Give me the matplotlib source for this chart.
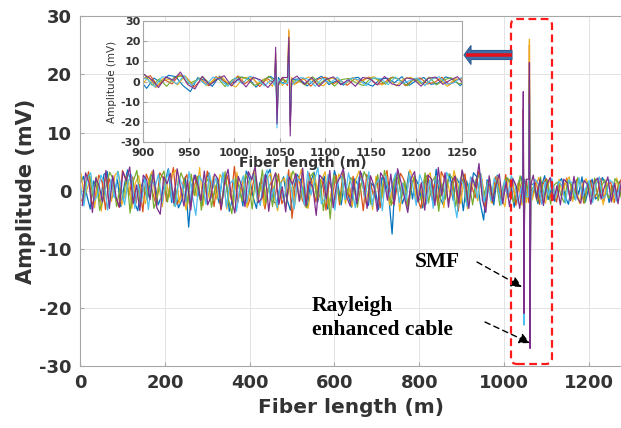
import numpy as np
import matplotlib.pyplot as plt
from matplotlib.patches import FancyBboxPatch, FancyArrow
from matplotlib.transforms import IdentityTransform

plt.rcParams['axes.unicode_minus'] = False

# sampling step of the traces (m), each trace starts a little later
step = 8

# noise of every trace, in 0.1 mV
noise_blue = [12, 25, -8, -31, 17, 4, -22, 28, 33, -15, -6, 19, -27, 9, 36, 14, -19, -34, 7, 22,
              -11, 30, 16, -24, -9, 13, 38, -20, 5, -29, -16, 24, -62, 11, 27, -7, -25, 18, 31, -13,
              3, -21, 29, 20, -35, -12, 15, 8, -26, 34, 21, -10, -30, 14, -4, 26, 37, -18, -23, 10,
              24, -14, -33, 6, 28, 19, -9, -27, 16, 32, -20, 2, 25, -31, -11, 35, 12, -24, 18, -6,
              -28, 21, 9, 30, -17, -25, 13, 4, -32, 23, 15, -8, -74, 27, 18, -22, -5, 33, -14, 20,
              8, -29, 26, 14, -19, 37, -10, -23, 5, 29, -16, 22, 11, -34, 17, -7, 31, 24, -21, -50,
              19, 6, -24, 27, -13, -4, 22, 15, -28, 10, 25, -17, -9, 20, 13, -22, 7, 26, -15, 3,
              -18, 14, 21, -9, -23, 11, 17, -6, 24, -19, 5, 20, -14, -8, 23, 12, -20, 9, -11, 16]
noise_orange = [-17, 8, 33, -24, -10, 27, 15, -32, 21, 6, -13, -28, 35, 19, -7, 24, -21, 11, -36, 29,
                14, -5, -26, 31, 22, -18, 9, 40, -23, -12, 17, 28, -30, 3, 25, -16, -9, 34, 13, -27,
                20, -33, 7, 26, -14, 42, -20, 10, 18, -25, -6, 30, -19, 23, -31, 5, 16, -12, 29, -22,
                -8, 36, -47, 12, 24, -15, -27, 31, 9, -19, 21, 14, -33, 18, -4, 27, -24, 32, 6, -11,
                25, -20, 13, -34, 28, 17, -8, 22, -29, 11, 35, -16, -23, 7, 30, 19, -26, 4, 24, -13,
                -30, 16, 27, -9, 12, -24, 33, 20, -17, -6, 26, -35, 14, 29, -21, 8, -12, 34, 18, -28,
                10, -21, 24, 6, -16, 28, -11, 19, -25, 15, 9, -18, 23, -7, 17, -23, 12, 21, -14, 8,
                -19, 13, 5, 22, -15, -9, 20, 14, -21, 7, 18, -12, -4, 21, -17, 10, 15, -20, 6, 19]
noise_yellow = [30, -12, 7, 24, -29, 16, -35, 21, 10, -18, 27, 33, -24, -8, 19, -30, 13, 26, -5, -22,
                17, 34, -16, 8, -27, 23, -11, 29, 36, -21, 4, -33, 15, 20, -9, 40, -26, 12, -18, 25,
                -14, 28, 19, -31, 6, -23, 32, -7, 24, -29, 13, 35, -17, 9, -26, 21, 30, -12, -34, 16,
                22, -6, 31, -25, 14, 37, -19, -30, 11, 26, -13, 20, 33, -28, 5, -16, 29, 18, -22, 8,
                -27, 19, 34, 12, -21, 7, -32, 25, 16, -11, 30, -24, 9, 28, -35, 14, -7, 36, 21, -19,
                11, -26, 23, 31, -14, 5, 27, -29, 18, -9, 35, 13, -22, 24, -31, 15, 8, -17, 29, -12,
                16, -20, 9, 25, -13, -27, 18, 22, -8, 14, -24, 11, 19, -16, 6, 23, -10, -21, 17, 12,
                -13, 20, -7, 16, 24, -18, 9, -22, 13, 21, -6, -15, 18, 10, -24, 14, 7, -19, 22, -9]
noise_green = [-21, 15, 29, -9, 24, -33, -16, 11, 32, 20, -27, 5, -12, 26, -38, 18, 35, -23, 8, -14,
               27, -30, -11, 22, 34, -19, 13, -26, 7, 31, 16, -22, 29, -8, 25, -33, 12, 21, -28, 4,
               19, -24, 33, -15, -39, 22, 9, -18, 28, 14, -31, 25, -6, 36, -21, 11, -27, 30, 17, -10,
               -25, 13, 34, 21, -17, 6, -29, 24, 31, -12, 20, -34, 15, -48, 27, 9, -20, 32, -7, 23,
               14, -28, 7, 33, 19, -23, -10, 28, -16, 35, 4, -25, 22, 30, -13, 17, -32, 10, 26, -18,
               -9, 31, -21, 16, 25, -35, 12, -14, 29, 22, -27, 8, 34, -19, 13, -24, 20, 27, -11, 6,
               21, -13, 17, -25, 9, 23, 14, -20, -6, 26, 11, -22, 16, 7, -18, 24, -12, 19, -23, 10,
               15, -7, -20, 18, 11, -14, 23, 6, -21, 16, -10, 22, -17, 8, 19, -12, -5, 21, 13, -16]
noise_cyan = [9, -26, 22, 31, -17, -8, 27, 14, -33, 20, -12, 34, 6, -24, 16, 28, -30, 11, -19, 25,
              -32, 18, 7, 29, -21, 13, 36, -15, -27, 24, 10, -18, 33, -9, -42, 26, 15, -23, 30, 4,
              23, -14, 32, -28, 12, 19, -35, 8, 26, -20, 17, 30, -11, -25, 21, 36, -16, 5, -29, 14,
              -18, 27, 10, -31, 22, 15, -24, 34, -7, 18, 40, -22, -13, 28, 9, -33, 20, 25, -15, 31,
              6, -29, 24, 17, -12, 33, -26, 11, 20, -34, 27, -9, 15, 31, -20, 13, -17, 29, 8, -25,
              28, 12, -23, 19, -30, 26, 7, -18, 32, 15, -14, -46, 21, 10, -27, 24, 17, -13, 30, -20,
              13, -17, 22, 9, -24, 18, -11, 26, 14, -21, 7, 24, -15, -9, 20, 12, -23, 16, -8, 21,
              -12, 17, 8, -21, 19, 13, -16, 22, -10, 5, 18, -20, 11, 24, -13, -7, 19, 14, -18, 10]
noise_purple = [-25, 31, 14, -37, 22, 8, -19, 35, -30, 26, -11, -28, 33, 17, 41, -22, 10, -34, 27, 19,
                -15, 36, -29, -40, 24, 12, 30, -21, 38, 5, -26, 18, -33, 27, 13, -17, 34, -24, -9, 29,
                21, -31, 16, 37, -13, -38, 25, 9, -27, 33, 19, 42, -20, -12, 28, -35, 14, 31, -23, 7,
                -36, 24, 11, 30, -18, 39, -25, 16, 6, -42, 27, 20, -14, 35, -29, 12, 23, 38, -10, -26,
                18, -22, 34, 13, -30, 26, 9, -35, 31, 21, -16, 29, -24, 38, 15, -11, -37, 22, 33, -19,
                14, -33, 27, 20, -25, 40, -8, 31, -28, 17, 25, -21, 36, 11, -30, 23, 6, 47, -15, -37,
                26, -18, 10, 29, -22, 15, -27, 21, 8, -30, 24, 13, -19, 27, -14, 20, -25, 11, 23, -16,
                9, -24, 20, 14, -17, 25, -12, -21, 18, 11, -23, 16, 22, -14, 7, 24, -19, 13, -22, 17]

# reflection peaks of SMF (~1046 m) and Rayleigh enhanced cable (~1060 m), mV
spike_x = [1044.5, 1045.5, 1047, 1048.5, 1053, 1058.5, 1060, 1061.5, 1063]
spike_blue = [1, 10, -16, 2, -1, 1, 17, -20, 1]
spike_orange = [-1, 14, -18, -1, 2, -2, 25, -22, -1]
spike_yellow = [2, 9, -14, 1, -2, 1, 26, -19, 2]
spike_green = [0, 7, -12, -2, 1, 0, 19, -17, 0]
spike_cyan = [-2, 11, -23, 1, -1, -1, 15, -21, -2]
spike_purple = [1, 17, -21, -1, 2, 2, 22, -27, 1]

# noise, peaks, colour, start of the sampling (m)
traces = [
    (noise_blue, spike_blue, '#0072BD', 0),
    (noise_orange, spike_orange, '#D95319', 4),
    (noise_yellow, spike_yellow, '#EDB120', 2),
    (noise_green, spike_green, '#77AC30', 6),
    (noise_cyan, spike_cyan, '#4DBEEE', 1),
    (noise_purple, spike_purple, '#7E2F8E', 5),
]

x_ticks = [0, 200, 400, 600, 800, 1000, 1200]
y_ticks = [-30, -20, -10, 0, 10, 20, 30]
inset_x_ticks = [900, 950, 1000, 1050, 1100, 1150, 1200, 1250]


def build_trace(noise, spikes, start):
    # noise samples plus the two reflection peaks, sorted along the fiber
    x = start + np.arange(len(noise)) * step
    y = np.array(noise) / 10.0
    keep = (x < spike_x[0] - 1) | (x > spike_x[-1] + 1)
    x = np.concatenate([x[keep], spike_x])
    y = np.concatenate([y[keep], spikes])
    order = np.argsort(x, kind='stable')
    return x[order], y[order]


def style_axes(ax, size, pad):
    for s in ax.spines.values():
        s.set_color('#a6a6a6')
        s.set_linewidth(0.8)
    ax.grid(True, color='#e3e3e3', linewidth=0.7)
    ax.set_axisbelow(True)
    ax.tick_params(direction='in', length=3, color='#a6a6a6', labelsize=size,
                   labelcolor='#333333', pad=pad)
    for lab in ax.get_xticklabels() + ax.get_yticklabels():
        lab.set_fontweight('bold')


fig = plt.figure(figsize=(6.21, 4.28), dpi=100)
ax = fig.add_axes([0.129, 0.145, 0.871, 0.818])

for noise, spikes, color, start in traces:
    xs, ys = build_trace(noise, spikes, start)
    ax.plot(xs, ys, color=color, linewidth=0.9)

ax.set_xlim(0, 1276)
ax.set_ylim(-30, 30)
ax.set_xticks(x_ticks)
ax.set_yticks(y_ticks)
style_axes(ax, 13, 6)
ax.spines['right'].set_visible(False)
ax.set_xlabel('Fiber length (m)', fontsize=14.5, fontweight='bold', color='#333333', labelpad=4)
ax.set_ylabel('Amplitude (mV)', fontsize=15, fontweight='bold', color='#333333', labelpad=2)

# zoomed view of the reflection region
ax_in = fig.add_axes([0.2303, 0.6682, 0.5137, 0.2827])
for noise, spikes, color, start in traces:
    xs, ys = build_trace(noise, spikes, start)
    ax_in.plot(xs, ys, color=color, linewidth=0.8)
ax_in.set_xlim(900, 1250)
ax_in.set_ylim(-30, 30)
ax_in.set_xticks(inset_x_ticks)
ax_in.set_yticks(y_ticks)
style_axes(ax_in, 8, 2)
ax_in.tick_params(axis='x', pad=4)
ax_in.set_xlabel('Fiber length (m)', fontsize=10, fontweight='bold', color='#333333', labelpad=-1)
ax_in.set_ylabel('Amplitude (mV)', fontsize=7.5, color='#333333', labelpad=2)

# red dashed box round the peaks (pixel coordinates)
box = FancyBboxPatch((511, 64), 41, 345, boxstyle='round,pad=0,rounding_size=6',
                     transform=IdentityTransform(), fill=False, edgecolor='#ff1a1a',
                     linestyle=(0, (3.5, 2)), linewidth=1.6)
fig.patches.append(box)

# block arrow pointing to the inset
blue_arrow = FancyArrow(512, 373, -48, 0, width=9, head_width=19, head_length=7,
                        length_includes_head=True, transform=IdentityTransform(),
                        facecolor='#3f6fa8', edgecolor='#2f5d92', linewidth=0.8)
fig.patches.append(blue_arrow)
red_arrow = FancyArrow(512, 373, -46, 0, width=3.5, head_width=3.5, head_length=0.1,
                       length_includes_head=True, transform=IdentityTransform(),
                       facecolor='#e8101a', edgecolor='none')
fig.patches.append(red_arrow)

# labels of the two cables
fig.text(437, 428 - 262, 'SMF', transform=IdentityTransform(), ha='center', va='center',
         fontsize=15.5, fontweight='bold', family='Liberation Serif')
fig.text(312, 428 - 318, 'Rayleigh\nenhanced cable', transform=IdentityTransform(),
         ha='left', va='center', fontsize=15.5, fontweight='bold', family='Liberation Serif',
         linespacing=1.3)

arrow_kw = dict(arrowstyle='-|>', linestyle=(0, (4, 3)), color='black', linewidth=1.0,
                mutation_scale=16, shrinkA=0, shrinkB=0)
ax.annotate('', xy=(522, 428 - 287), xytext=(477, 428 - 262),
            xycoords='figure pixels', textcoords='figure pixels', arrowprops=arrow_kw)
ax.annotate('', xy=(530, 428 - 343), xytext=(485, 428 - 322),
            xycoords='figure pixels', textcoords='figure pixels', arrowprops=arrow_kw)

fig.savefig('out.png', dpi=100)
